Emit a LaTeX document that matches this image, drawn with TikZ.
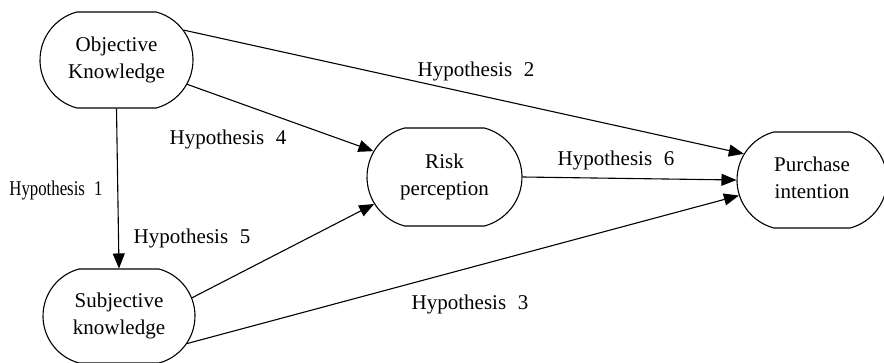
\documentclass[tikz,border=0pt]{standalone}
\usepackage{fontspec}
\usepackage{graphicx}
\setmainfont{Liberation Serif}
\usetikzlibrary{shapes.misc,arrows.meta}
\newcommand{\zc}[1]{\makebox[0pt]{\begin{tabular}{@{}c@{}}#1\end{tabular}}}
\newcommand{\hyp}[1]{Hypothesis\hspace{0.55em}#1}
\begin{document}
\begin{tikzpicture}[x=1pt,y=-1pt,
  box/.style={draw, line width=1.1pt, rounded rectangle, rounded rectangle arc length=150,
    minimum height=96pt, inner sep=0pt, font=\fontsize{21}{27}\selectfont},
  lbl/.style={inner sep=0pt, font=\fontsize{21}{27}\selectfont},
  conn/.style={line width=1.1pt, -{Triangle[length=15pt,width=12pt]}}]
\useasboundingbox (0,0) rectangle (884,363);
\node[box, minimum width=153pt] (ok) at (116.5,60) {\zc{Objective\\Knowledge}};
\node[box, minimum width=152pt, minimum height=94pt] (sk) at (119,316) {\zc{Subjective\\knowledge}};
\node[box, minimum width=155pt, minimum height=98pt] (rp) at (444.5,177) {\zc{Risk\\perception}};
\node[box, minimum width=150pt] (pi) at (812,180) {\zc{Purchase\\intention}};

\draw[conn] (ok.24.7) -- (pi.159.3);
\draw[conn] (ok.-19.2) -- (rp.160.7);
\draw[conn] (ok.south) -- (sk.north);
\draw[conn] (sk.14.4) -- (rp.201.4);
\draw[conn] (sk.-22.8) -- (pi.192.4);
\draw[conn] (rp.east) -- (pi.west);

\node[lbl] (h1) at (56,190) {\scalebox{0.8}[1]{\hyp{1}}};
\node[lbl] (h2) at (476,71) {\hyp{2}};
\node[lbl] (h3) at (470,304) {\hyp{3}};
\node[lbl] (h4) at (228,139) {\hyp{4}};
\node[lbl] (h5) at (192,238) {\hyp{5}};
\node[lbl] (h6) at (616,160) {\hyp{6}};
\end{tikzpicture}
\end{document}
